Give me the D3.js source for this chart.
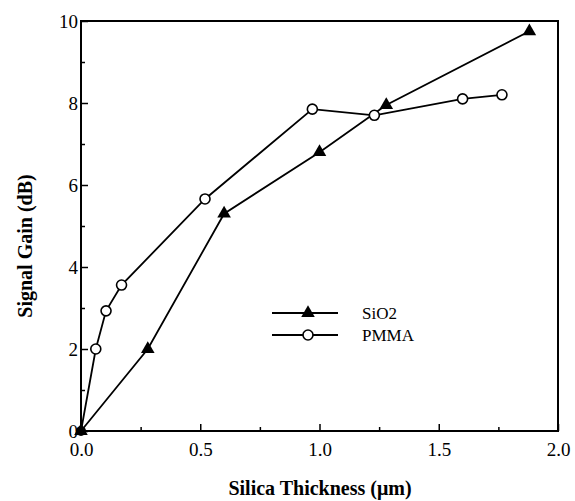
<!DOCTYPE html>
<html>
<head>
<meta charset="utf-8">
<script src="https://cdn.jsdelivr.net/npm/d3@7"></script>
<style>
  body { margin: 0; background: #fff; }
  text { font-family: "Liberation Serif", "Times New Roman", serif; }
</style>
</head>
<body>
<div id="chart"></div>
<script>
// SiO2 (filled triangles) and PMMA (open circles)
var sio2X = [0, 0.28, 0.60, 1.00, 1.28, 1.88];
var sio2Y = [0, 2.0, 5.3, 6.8, 7.95, 9.75];
var pmmaX = [0, 0.062, 0.105, 0.17, 0.52, 0.97, 1.23, 1.60, 1.765];
var pmmaY = [0, 2.0, 2.93, 3.56, 5.66, 7.85, 7.7, 8.1, 8.2];
var xTicks = [0, 0.5, 1.0, 1.5, 2.0];
var yTicks = [0, 2, 4, 6, 8, 10];
var seriesNames = ["SiO2", "PMMA"];

var W = 575, H = 501;
var margin = {left: 81, top: 21, right: 17, bottom: 70};

var svg = d3.select("#chart").append("svg")
    .attr("width", W)
    .attr("height", H);

var x = d3.scaleLinear().domain([0, 2]).range([margin.left, W - margin.right]);
var y = d3.scaleLinear().domain([0, 10]).range([H - margin.bottom, margin.top]);

var sio2 = sio2X.map(function(d, i) { return [d, sio2Y[i]]; });
var pmma = pmmaX.map(function(d, i) { return [d, pmmaY[i]]; });

// frame
svg.append("rect")
    .attr("x", x(0)).attr("y", y(10))
    .attr("width", x(2) - x(0)).attr("height", y(0) - y(10))
    .attr("fill", "none").attr("stroke", "#000").attr("stroke-width", 2);

// x axis, ticks inward
var xAxis = d3.axisBottom(x).tickValues(xTicks).tickFormat(d3.format(".1f"))
    .tickSizeInner(-7).tickSizeOuter(0).tickPadding(12);
var gx = svg.append("g").attr("transform", "translate(0," + y(0) + ")").call(xAxis);
gx.select(".domain").remove();
gx.selectAll(".tick line").attr("stroke-width", 1.5);
gx.selectAll(".tick text").attr("font-size", 19).attr("fill", "#000")
    .attr("font-family", "Liberation Serif");
svg.append("g").attr("transform", "translate(0," + y(0) + ")")
    .call(d3.axisBottom(x).tickValues([0.25, 0.75, 1.25, 1.75]).tickFormat("").tickSizeInner(-4).tickSizeOuter(0))
    .call(function(g) { g.select(".domain").remove(); })
    .selectAll(".tick line").attr("stroke-width", 1.5);

// y axis
var yAxis = d3.axisLeft(y).tickValues(yTicks).tickFormat(d3.format("d"))
    .tickSizeInner(-7).tickSizeOuter(0).tickPadding(3);
var gy = svg.append("g").attr("transform", "translate(" + x(0) + ",0)").call(yAxis);
gy.select(".domain").remove();
gy.selectAll(".tick line").attr("stroke-width", 1.5);
gy.selectAll(".tick text").attr("font-size", 19).attr("fill", "#000")
    .attr("font-family", "Liberation Serif");
svg.append("g").attr("transform", "translate(" + x(0) + ",0)")
    .call(d3.axisLeft(y).tickValues([1, 3, 5, 7, 9]).tickFormat("").tickSizeInner(-4).tickSizeOuter(0))
    .call(function(g) { g.select(".domain").remove(); })
    .selectAll(".tick line").attr("stroke-width", 1.5);

// axis titles
svg.append("text")
    .attr("x", 320).attr("y", 495)
    .attr("text-anchor", "middle").attr("font-size", 20).attr("font-weight", "bold")
    .text("Silica Thickness (\u03bcm)");
svg.append("text")
    .attr("transform", "translate(32," + ((y(0) + y(10)) / 2 + 20) + ") rotate(-90)")
    .attr("text-anchor", "middle").attr("font-size", 20).attr("font-weight", "bold")
    .text("Signal Gain (dB)");

var line = d3.line().x(function(d) { return x(d[0]); }).y(function(d) { return y(d[1]); });
var tri = d3.symbol().type(d3.symbolTriangle).size(80);

svg.append("path").datum(sio2).attr("d", line)
    .attr("fill", "none").attr("stroke", "#000").attr("stroke-width", 1.8);
svg.append("path").datum(pmma).attr("d", line)
    .attr("fill", "none").attr("stroke", "#000").attr("stroke-width", 1.8);

svg.selectAll(".tri").data(sio2).enter().append("path")
    .attr("transform", function(d) { return "translate(" + x(d[0]) + "," + y(d[1]) + ")"; })
    .attr("d", tri).attr("fill", "#000");
svg.selectAll(".circ").data(pmma.slice(1)).enter().append("circle")
    .attr("cx", function(d) { return x(d[0]); })
    .attr("cy", function(d) { return y(d[1]); })
    .attr("r", 5).attr("fill", "#fff").attr("stroke", "#000").attr("stroke-width", 1.6);
// origin dot
svg.append("circle").attr("cx", x(0)).attr("cy", y(0)).attr("r", 5).attr("fill", "#000");

// legend
var leg = svg.append("g");
seriesNames.forEach(function(name, i) {
  var ly = 313 + i * 22;
  leg.append("line").attr("x1", 272).attr("x2", 338).attr("y1", ly).attr("y2", ly)
      .attr("stroke", "#000").attr("stroke-width", 1.8);
  if (i === 0) {
    leg.append("path").attr("transform", "translate(308," + ly + ")").attr("d", tri).attr("fill", "#000");
  } else {
    leg.append("circle").attr("cx", 308).attr("cy", ly).attr("r", 5)
        .attr("fill", "#fff").attr("stroke", "#000").attr("stroke-width", 1.6);
  }
  leg.append("text").attr("x", 362).attr("y", ly + 6).attr("font-size", 17).text(name);
});
</script>
</body>
</html>
